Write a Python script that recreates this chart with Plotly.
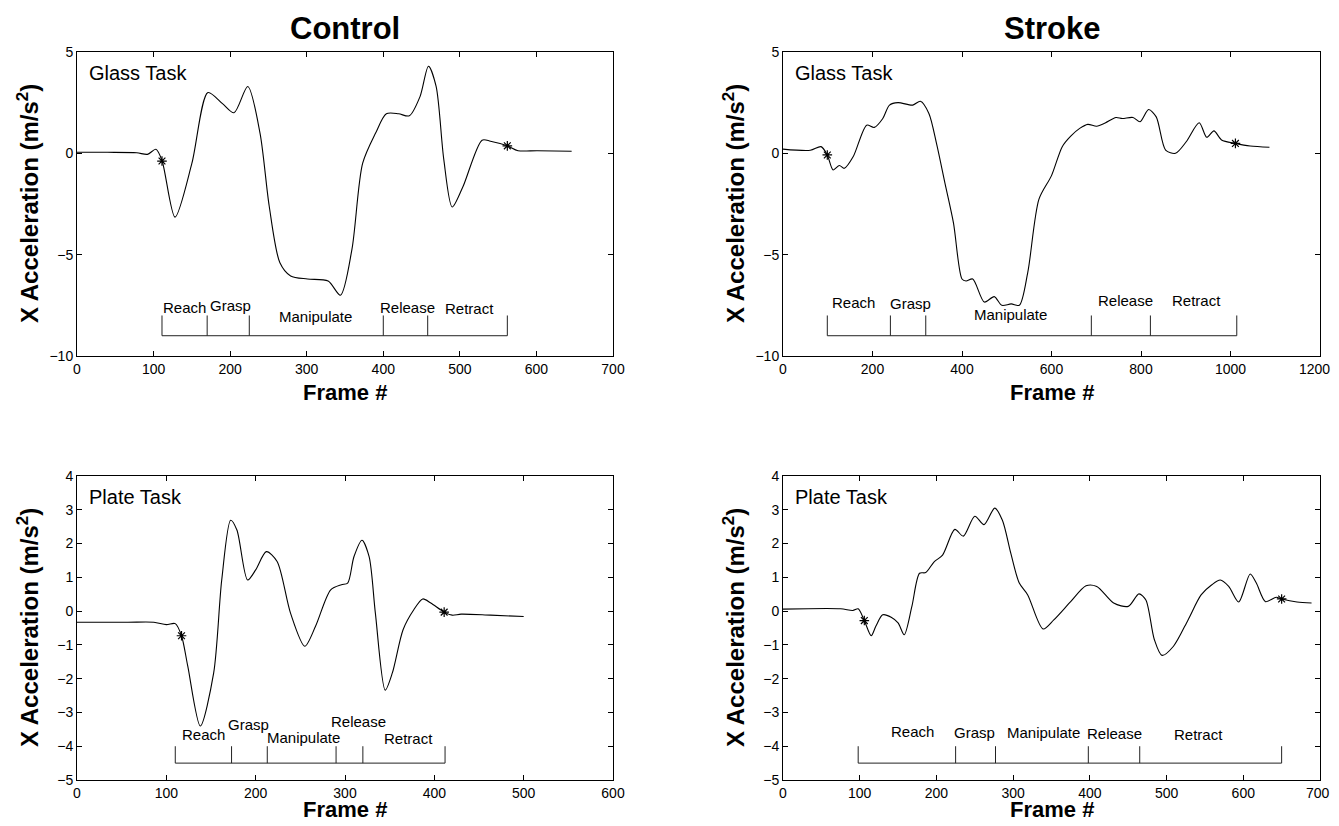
import plotly.graph_objects as go

# ---------------- data ----------------
# Control - Glass task
cg_x = [0, 40, 78, 92, 103, 111, 128, 150, 171, 190, 205, 223, 239, 251, 265, 279, 301, 328, 344, 359, 373, 390, 404, 420, 434, 448, 459, 469, 479, 490, 504, 529, 540, 562, 576, 601, 646]
cg_y = [0.05, 0.05, 0.03, -0.05, 0.2, -0.35, -3.15, -0.5, 3.0, 2.45, 2.0, 3.3, 1.0, -2.6, -5.4, -6.05, -6.2, -6.3, -7.0, -4.75, -0.5, 1.0, 1.95, 1.95, 1.85, 2.8, 4.3, 3.3, -0.3, -2.65, -1.65, 0.65, 0.6, 0.37, 0.13, 0.13, 0.1]
cg_star_x = [111, 562]
cg_star_y = [-0.38, 0.37]
cg_phase = [111, 170, 225, 400, 458, 562]

# Stroke - Glass task
sg_x = [0, 61, 85, 99, 112, 126, 137, 157, 187, 204, 223, 238, 257, 290, 307, 326, 343, 362, 381, 400, 409, 424, 450, 472, 489, 510, 528, 547, 572, 600, 624, 643, 663, 681, 701, 720, 744, 758, 782, 798, 817, 834, 855, 877, 901, 930, 947, 963, 980, 1011, 1044, 1087]
sg_y = [0.21, 0.15, 0.33, -0.08, -0.82, -0.6, -0.74, -0.16, 1.39, 1.28, 1.72, 2.38, 2.5, 2.38, 2.57, 1.97, 0.49, -1.48, -3.44, -6.2, -6.3, -6.2, -7.34, -7.07, -7.5, -7.43, -7.5, -5.87, -2.26, -1.1, 0.33, 0.85, 1.23, 1.43, 1.34, 1.5, 1.77, 1.72, 1.77, 1.56, 2.16, 1.8, 0.16, 0.0, 0.57, 1.51, 0.79, 1.11, 0.66, 0.49, 0.36, 0.3]
sg_star_x = [99, 1011]
sg_star_y = [-0.08, 0.49]
sg_phase = [99, 240, 319, 689, 821, 1014]

# Control - Plate task
cp_x = [0, 57, 86, 100, 110, 117, 124, 138, 153, 162, 172, 179, 191, 200, 212, 224, 239, 255, 267, 284, 296, 303, 310, 319, 327, 334, 345, 353, 365, 377, 387, 396, 411, 420, 430, 463, 500]
cp_y = [-0.33, -0.33, -0.33, -0.4, -0.37, -0.73, -1.63, -3.4, -1.83, 0.92, 2.69, 2.4, 0.92, 1.22, 1.76, 1.47, -0.06, -1.04, -0.45, 0.63, 0.78, 0.83, 1.61, 2.1, 1.61, -0.06, -2.34, -1.83, -0.55, 0.04, 0.36, 0.24, -0.03, -0.12, -0.09, -0.12, -0.16]
cp_star_x = [117, 411]
cp_star_y = [-0.73, -0.03]
cp_phase = [110, 173, 213, 290, 320, 412]

# Stroke - Plate task
sp_x = [0, 75, 91, 98, 106, 115, 121, 130, 141, 150, 158, 168, 178, 186, 197, 208, 224, 235, 250, 262, 276, 286, 297, 308, 319, 339, 353, 375, 395, 409, 431, 450, 464, 473, 484, 494, 509, 528, 545, 559, 570, 581, 594, 609, 617, 629, 643, 650, 670, 689]
sp_y = [0.06, 0.07, 0.02, 0.07, -0.28, -0.73, -0.45, -0.11, -0.18, -0.35, -0.7, 0.14, 1.12, 1.14, 1.46, 1.66, 2.42, 2.22, 2.81, 2.56, 3.05, 2.69, 1.71, 0.83, 0.48, -0.53, -0.26, 0.28, 0.75, 0.73, 0.24, 0.14, 0.51, 0.33, -0.84, -1.31, -1.04, -0.26, 0.48, 0.78, 0.92, 0.73, 0.27, 1.1, 0.83, 0.28, 0.41, 0.36, 0.27, 0.24]
sp_star_x = [106, 650]
sp_star_y = [-0.28, 0.36]
sp_phase = [98, 225, 277, 398, 465, 650]

phase_names = ["Reach", "Grasp", "Manipulate", "Release", "Retract"]

# ---------------- layout helpers ----------------
# The page body has an 8px margin, so the figure is placed 8px in from the
# window's top-left corner; target positions below are window pixels.
OFF = 8
W, H = 1339 - OFF, 826 - 2 * OFF
FONT = "Liberation Sans, Arial, Helvetica, sans-serif"


def px(xp):
    return (xp - OFF) / W


def py(yp):
    return 1 - (yp - OFF) / H


panels = [
    dict(x=cg_x, y=cg_y, sx=cg_star_x, sy=cg_star_y, ph=cg_phase,
         xd=(77, 613), yd=(52, 356), xr=[0, 700], xt=100, yr=[-10, 5], yt=5,
         bar=-9.0, btop=-8.0,
         lab=[(141, -7.6), (200, -7.5), (311, -8.03), (432, -7.6), (512, -7.65)],
         task="Glass Task"),
    dict(x=sg_x, y=sg_y, sx=sg_star_x, sy=sg_star_y, ph=sg_phase,
         xd=(783, 1320), yd=(52, 356), xr=[0, 1200], xt=200, yr=[-10, 5], yt=5,
         bar=-9.0, btop=-8.0,
         lab=[(157, -7.34), (284, -7.4), (508, -7.95), (765, -7.26), (923, -7.26)],
         task="Glass Task"),
    dict(x=cp_x, y=cp_y, sx=cp_star_x, sy=cp_star_y, ph=cp_phase,
         xd=(77, 613), yd=(476, 780), xr=[0, 600], xt=100, yr=[-5, 4], yt=1,
         bar=-4.5, btop=-4.0,
         lab=[(142, -3.64), (192, -3.35), (253, -3.74), (315, -3.28), (371, -3.77)],
         task="Plate Task"),
    dict(x=sp_x, y=sp_y, sx=sp_star_x, sy=sp_star_y, ph=sp_phase,
         xd=(783, 1320), yd=(476, 780), xr=[0, 700], xt=100, yr=[-5, 4], yt=1,
         bar=-4.5, btop=-4.0,
         lab=[(169, -3.55), (250, -3.58), (339, -3.6), (432, -3.62), (541, -3.64)],
         task="Plate Task"),
]

fig = go.Figure()
annotations = []
layout_axes = {}

for i, p in enumerate(panels, start=1):
    xa = "x" if i == 1 else f"x{i}"
    ya = "y" if i == 1 else f"y{i}"
    xkey = "xaxis" if i == 1 else f"xaxis{i}"
    ykey = "yaxis" if i == 1 else f"yaxis{i}"

    # signal
    fig.add_trace(go.Scatter(x=p["x"], y=p["y"], mode="lines",
                             line=dict(color="black", width=1.1, shape="spline", smoothing=0.8),
                             xaxis=xa, yaxis=ya, showlegend=False, hoverinfo="skip"))
    # star markers
    fig.add_trace(go.Scatter(x=p["sx"], y=p["sy"], mode="markers",
                             marker=dict(symbol="asterisk-open", size=8, color="black",
                                         line=dict(color="black", width=1.2)),
                             xaxis=xa, yaxis=ya, showlegend=False, hoverinfo="skip"))
    # phase bar
    bx, by = [p["ph"][0], p["ph"][-1], None], [p["bar"], p["bar"], None]
    for b in p["ph"]:
        bx += [b, b, None]
        by += [p["bar"], p["btop"], None]
    fig.add_trace(go.Scatter(x=bx, y=by, mode="lines",
                             line=dict(color="#222222", width=1),
                             xaxis=xa, yaxis=ya, showlegend=False, hoverinfo="skip"))
    for name, (lx, ly) in zip(phase_names, p["lab"]):
        annotations.append(dict(x=lx, y=ly, xref=xa, yref=ya, text=name, showarrow=False,
                                xanchor="center", yanchor="middle",
                                font=dict(family=FONT, size=15, color="black")))
    # task label
    annotations.append(dict(x=0.018, y=0.93, xref=f"{xa} domain", yref=f"{ya} domain",
                            text=p["task"], showarrow=False, xanchor="left", yanchor="middle",
                            font=dict(family=FONT, size=20, color="black")))

    axcommon = dict(showgrid=False, zeroline=False, showline=True, linecolor="black",
                    linewidth=1, mirror="ticks", ticks="inside", ticklen=5,
                    tickcolor="black", tickwidth=1, automargin=False,
                    tickfont=dict(family=FONT, size=14, color="black"))
    tickvals = list(range(p["xr"][0], p["xr"][1] + 1, p["xt"]))
    ticktext = [str(v) for v in tickvals]
    edge_label = None
    if p["xd"][1] > 1300:
        # the last label sits at the window edge: draw it nudged inward
        edge_label = ticktext[-1]
        ticktext[-1] = ""
    layout_axes[xkey] = dict(axcommon, domain=[px(p["xd"][0]), px(p["xd"][1])],
                             range=p["xr"], tickmode="array", tickvals=tickvals,
                             ticktext=ticktext, anchor=ya)
    layout_axes[ykey] = dict(axcommon, domain=[py(p["yd"][1]), py(p["yd"][0])],
                             range=p["yr"], dtick=p["yt"], tick0=0, anchor=xa,
                             tickformat="d")
    if edge_label:
        annotations.append(dict(x=tickvals[-1], y=0, xref=xa, yref=f"{ya} domain",
                                text=edge_label, showarrow=False, xanchor="right",
                                yanchor="top", xshift=12, yshift=-3,
                                font=dict(family=FONT, size=14, color="black")))

    # axis titles as annotations
    xc = (p["xd"][0] + p["xd"][1]) / 2
    yc = (p["yd"][0] + p["yd"][1]) / 2
    title_y = p["yd"][1] + 36 if p["yd"][1] < 500 else 809
    annotations.append(dict(x=px(xc), y=py(title_y), xref="paper", yref="paper",
                            text="<b>Frame #</b>", showarrow=False, xanchor="center", yanchor="middle",
                            font=dict(family=FONT, size=22, color="black")))
    annotations.append(dict(x=px(p["xd"][0] - 49), y=py(yc), xref="paper", yref="paper",
                            text="<b>X Acceleration (m/s<sup>2</sup>)</b>", showarrow=False,
                            textangle=-90, xanchor="center", yanchor="middle",
                            font=dict(family=FONT, size=24, color="black")))

# column titles
annotations.append(dict(x=px(345), y=py(28), xref="paper", yref="paper", text="<b>Control</b>",
                        showarrow=False, xanchor="center", yanchor="middle",
                        font=dict(family=FONT, size=31, color="black")))
annotations.append(dict(x=px(1052), y=py(28), xref="paper", yref="paper", text="<b>Stroke</b>",
                        showarrow=False, xanchor="center", yanchor="middle",
                        font=dict(family=FONT, size=31, color="black")))

fig.update_layout(width=W, height=H, margin=dict(l=0, r=0, t=0, b=0),
                  paper_bgcolor="white", plot_bgcolor="white",
                  annotations=annotations, **layout_axes)

fig.write_html("out.html")
